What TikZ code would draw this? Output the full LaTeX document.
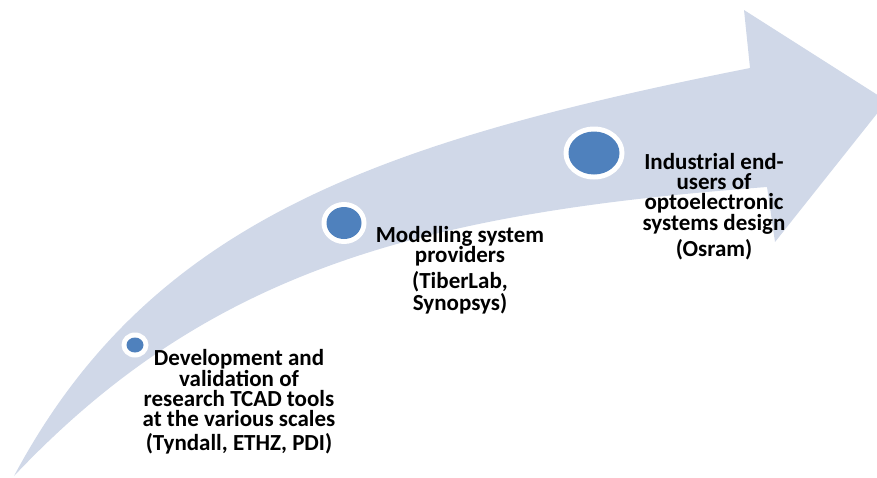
\documentclass[tikz,border=0pt]{standalone}
\usepackage{fontspec}
\setmainfont{Carlito}
\begin{document}
\begin{tikzpicture}[x=1pt,y=-1pt,
  band/.style={fill=bandcol, draw=none},
  dotring/.style={fill=white, draw=none},
  dotfill/.style={fill=dotcol, draw=none},
  lbl/.style={align=center, inner sep=0pt, anchor=base,
    font=\bfseries\fontsize{23}{20.3}\selectfont, text=black}]
\definecolor{bandcol}{HTML}{D0D8E8}
\definecolor{dotcol}{HTML}{4F81BD}
\useasboundingbox (0,0) rectangle (877,477);
\clip (0,0) rectangle (877,477);
% curved arrow
\coordinate (tail) at (14,476);
\coordinate (ntop) at (750,68);
\coordinate (htop) at (744,10);
\coordinate (tip) at (887,101);
\coordinate (hbot) at (775,242);
\coordinate (nbot) at (767,187);
\path[band] (tail) .. controls (150,221) and (378,142) .. (ntop)
  -- (htop) -- (tip) -- (hbot) -- (nbot)
  .. controls (418,213) and (207,272) .. (tail) -- cycle;
% dots
\coordinate (d1) at (135,345);
\coordinate (d2) at (344,223);
\coordinate (d3) at (594,153);
\path[dotring] (d1) ellipse [x radius=13.5, y radius=12.5];
\path[dotfill] (d1) ellipse [x radius=8.5, y radius=7.5];
\path[dotring] (d2) ellipse [x radius=22.5, y radius=21];
\path[dotfill] (d2) ellipse [x radius=17.5, y radius=16];
\path[dotring] (d3) ellipse [x radius=30.5, y radius=26.5];
\path[dotfill] (d3) ellipse [x radius=25.5, y radius=21.5];
% labels (anchor = baseline of last line)
\node[lbl] (t1) at (239,450) {Development and\\validation of\\research TCAD tools\\at the various scales\\[3pt](Tyndall, ETHZ, PDI)};
\node[lbl] (t2) at (460,310) {Modelling system\\providers\\[4pt](TiberLab,\\Synopsys)};
\node[lbl] (t3) at (714,256) {Industrial end-\\users of\\optoelectronic\\systems design\\[4pt](Osram)};
\end{tikzpicture}
\end{document}
